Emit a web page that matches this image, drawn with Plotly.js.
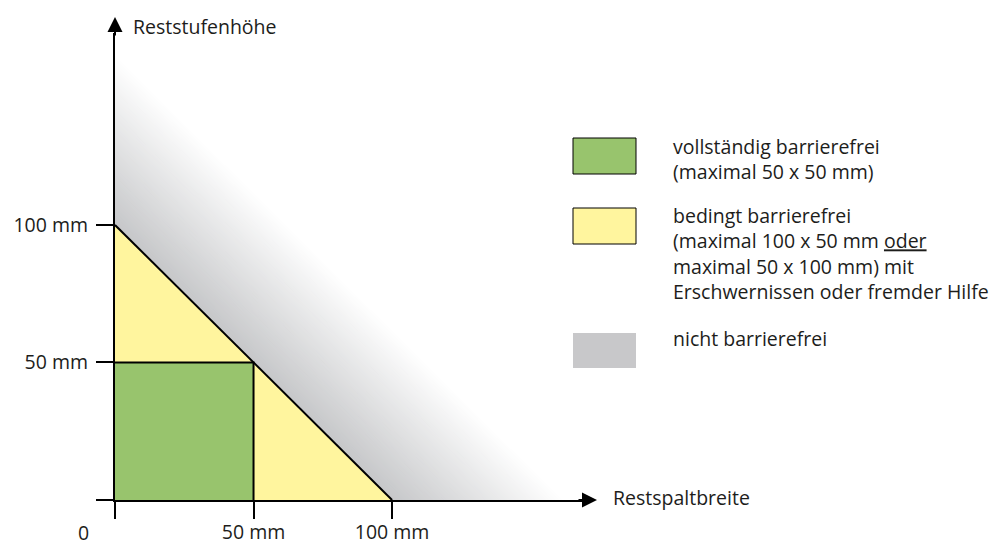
<!DOCTYPE html>
<html>
<head>
<meta charset="utf-8">
<script src="https://cdn.plot.ly/plotly-3.0.1.min.js"></script>
<style>html,body{margin:0;padding:0;background:#fff;}#chart{width:994px;height:542px;}</style>
</head>
<body>
<div id="chart"></div>
<script>
// ---- data (mm) ----
const xTickVals = [0, 50, 100];
const xTickText = ['', '50 mm', '100 mm'];
const yTickVals = [0, 50, 100];
const yTickText = ['', '50 mm', '100 mm'];
const originLabel = '0';

// zone: vollständig barrierefrei (square 50 x 50)
const greenX = [0, 50, 50, 0, 0];
const greenY = [0, 0, 50, 50, 0];
// zone: bedingt barrierefrei (triangle up to 100)
const yellowX = [0, 100, 0, 0];
const yellowY = [0, 0, 100, 0];
// boundary lines
const hypX = [0, 100];
const hypY = [100, 0];
const sqEdgeX = [0, 50, 50];
const sqEdgeY = [50, 50, 0];
// zone: nicht barrierefrei (fading band, value = width + height)
const grayX = [0, 170];
const grayY = [0, 170];
const grayZ = [[0, 170], [170, 340]];
const grayStart = 100;
const grayFadeEnd = 162;

const axisTitleX = 'Restspaltbreite';
const axisTitleY = 'Reststufenhöhe';
const legendLabels = [
  'vollständig barrierefrei<br>(maximal 50 x 50 mm)',
  'bedingt barrierefrei<br>(maximal 100 x 50 mm <u>oder</u><br>maximal 50 x 100 mm) mit<br>Erschwernissen oder fremder Hilfe',
  'nicht barrierefrei'
];

// ---- styles ----
const GREEN = '#98c46d';
const YELLOW = '#fff59e';
const GRAY = '#c6c7c9';
const INK = '#1d1d1b';
const FONT = 'Open Sans, Noto Sans, sans-serif';
const FS = 19.5;
const W = 994, H = 542;
const px = v => v / W;
const py = v => (H - v) / H;

const traces = [
  {
    type: 'contour', x: grayX, y: grayY, z: grayZ,
    autocontour: false,
    contours: {start: grayStart, end: grayFadeEnd, size: 0.5, coloring: 'fill', showlines: false},
    colorscale: [[0, GRAY], [1, '#ffffff']],
    zmin: grayStart, zmax: grayFadeEnd,
    showscale: false, line: {width: 0}, hoverinfo: 'skip'
  },
  {type: 'scatter', x: yellowX, y: yellowY, mode: 'lines', fill: 'toself', fillcolor: YELLOW,
   line: {width: 0}, hoverinfo: 'skip'},
  {type: 'scatter', x: greenX, y: greenY, mode: 'lines', fill: 'toself', fillcolor: GREEN,
   line: {width: 0}, hoverinfo: 'skip'},
  {type: 'scatter', x: hypX, y: hypY, mode: 'lines', line: {color: '#000', width: 2}, hoverinfo: 'skip', cliponaxis: false},
  {type: 'scatter', x: sqEdgeX, y: sqEdgeY, mode: 'lines', line: {color: '#000', width: 2}, hoverinfo: 'skip', cliponaxis: false}
];

const swatchColors = [GREEN, YELLOW, '#c8c8ca'];
const swatchTop = [138, 208, 333];
const swatchBot = [174, 244, 368];
const labelY = [159.5, 253, 338];

const shapes = swatchColors.map((c, i) => ({
  type: 'rect', xref: 'paper', yref: 'paper',
  x0: px(573), x1: px(636), y0: py(swatchBot[i]), y1: py(swatchTop[i]),
  fillcolor: c, line: {color: i < 2 ? '#000' : 'rgba(0,0,0,0)', width: i < 2 ? 1 : 0}
}));

const txt = (s, x, y, xa, extra) => Object.assign({
  text: s, xref: 'paper', yref: 'paper', x: px(x), y: py(y),
  xanchor: xa, yanchor: 'middle', align: 'left', showarrow: false,
  font: {family: FONT, size: FS, color: INK}
}, extra || {});

const annotations = [
  txt(axisTitleY, 131, 26, 'left'),
  txt(axisTitleX, 611, 497, 'left'),
  txt(originLabel, 83, 532, 'center'),
  ...legendLabels.map((l, i) => txt(l, 671, labelY[i], 'left')),
  // axis arrows
  {xref: 'paper', yref: 'paper', x: px(597), y: py(500), ax: -20, ay: 0, text: '',
   showarrow: true, arrowhead: 2, arrowsize: 1.5, arrowwidth: 2, arrowcolor: '#000'},
  {xref: 'paper', yref: 'paper', x: px(115), y: py(17), ax: 0, ay: 20, text: '',
   showarrow: true, arrowhead: 2, arrowsize: 1.5, arrowwidth: 2, arrowcolor: '#000'}
];

const axisCommon = {
  showgrid: false, zeroline: false, showline: true, linecolor: '#000', linewidth: 2,
  ticks: 'outside', ticklen: 17, tickwidth: 2, tickcolor: '#000',
  tickfont: {family: FONT, size: FS, color: INK}, fixedrange: true
};

const layout = {
  width: W, height: H,
  margin: {l: 0, r: 0, t: 0, b: 0},
  paper_bgcolor: '#fff', plot_bgcolor: 'rgba(0,0,0,0)',
  showlegend: false,
  xaxis: Object.assign({}, axisCommon, {
    domain: [px(115), px(586)], range: [0, 170],
    tickmode: 'array', tickvals: xTickVals, ticktext: xTickText,
    ticklabelstandoff: -3
  }),
  yaxis: Object.assign({}, axisCommon, {
    domain: [py(500), py(33)], range: [0, 169.8],
    tickmode: 'array', tickvals: yTickVals, ticktext: yTickText,
    ticklabelstandoff: 4
  }),
  shapes: shapes,
  annotations: annotations
};

Plotly.newPlot('chart', traces, layout, {displayModeBar: false, staticPlot: true});
</script>
</body>
</html>
